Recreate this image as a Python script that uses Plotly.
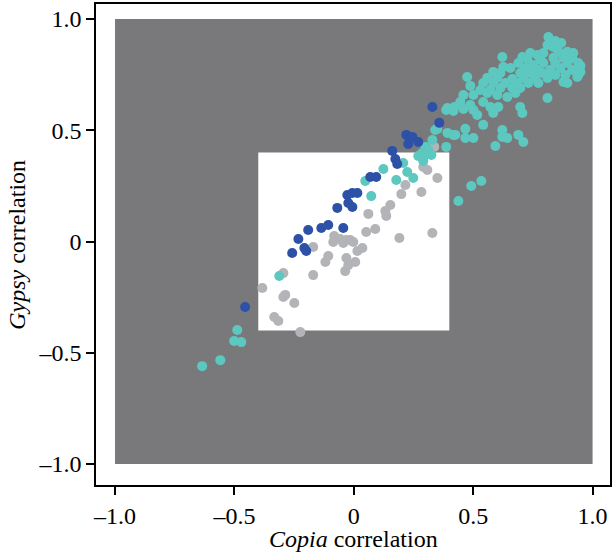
import plotly.graph_objects as go

# Gray points (non-significant)
gray_x = [0.337, 0.291, 0.308, 0.350, 0.216, 0.199, 0.283, 0.153, 0.132, 0.136, 0.061, 0.090, 0.052,
          0.191, 0.329, -0.082, -0.057, -0.031, -0.015, -0.086, -0.044, -0.002, 0.036, -0.170, 0.015,
          -0.107, -0.031, -0.119, 0.006, -0.023, -0.036, -0.295, -0.170, -0.383, -0.295, -0.287,
          -0.249, -0.333, -0.316, -0.224]
gray_y = [0.425, 0.335, 0.321, 0.285, 0.254, 0.213, 0.222, 0.164, 0.137, 0.115, 0.124, 0.056, 0.043,
          0.016, 0.038, 0.025, 0.011, 0.007, 0.007, -0.002, -0.007, -0.002, -0.029, -0.025, -0.043,
          -0.065, -0.074, -0.092, -0.092, -0.106, -0.133, -0.142, -0.151, -0.209, -0.249, -0.240,
          -0.276, -0.339, -0.357, -0.407]

# Teal points
teal_x = [0.815, 0.844, 0.869, 0.811, 0.836, 0.739, 0.769, 0.794, 0.857, 0.894, 0.919, 0.622, 0.706,
          0.727, 0.781, 0.836, 0.878, 0.915, 0.940, 0.689, 0.752, 0.794, 0.844, 0.894, 0.626, 0.656,
          0.718, 0.769, 0.823, 0.865, 0.915, 0.949, 0.584, 0.614, 0.697, 0.739, 0.790, 0.844, 0.886,
          0.936, 0.559, 0.601, 0.664, 0.710, 0.760, 0.811, 0.878, 0.475, 0.542, 0.584, 0.635, 0.685,
          0.731, 0.773, 0.488, 0.530, 0.572, 0.614, 0.664, 0.697, 0.459, 0.501, 0.559, 0.601, 0.643,
          0.677, 0.811, 0.446, 0.488, 0.542, 0.572, 0.605, 0.697, 0.392, 0.417, 0.459, 0.501, 0.517,
          0.584, 0.706, 0.542, 0.392, 0.417, 0.467, 0.501, 0.467, 0.622, 0.622, 0.643, 0.689, 0.710,
          0.593, 0.940, 0.894, 0.949, 0.341, 0.329, 0.387, 0.300, 0.312, 0.287, 0.270, 0.300, 0.325,
          0.291, 0.207, 0.124, 0.224, 0.249, 0.178, 0.048, 0.073, 0.438, 0.492, 0.534, -0.312, -0.488,
          -0.501, -0.471, -0.559, -0.635, 0.387, 0.421, 0.350, 0.425]
teal_y = [0.919, 0.901, 0.892, 0.883, 0.874, 0.847, 0.838, 0.847, 0.852, 0.852, 0.847, 0.829, 0.829,
          0.820, 0.820, 0.825, 0.825, 0.825, 0.802, 0.802, 0.793, 0.802, 0.802, 0.802, 0.784, 0.780,
          0.780, 0.771, 0.771, 0.780, 0.771, 0.762, 0.762, 0.757, 0.757, 0.757, 0.757, 0.748, 0.748,
          0.739, 0.735, 0.735, 0.730, 0.735, 0.735, 0.735, 0.717, 0.739, 0.712, 0.712, 0.712, 0.712,
          0.712, 0.712, 0.699, 0.681, 0.681, 0.690, 0.690, 0.690, 0.658, 0.658, 0.667, 0.658, 0.649,
          0.667, 0.645, 0.627, 0.613, 0.627, 0.604, 0.604, 0.604, 0.600, 0.586, 0.595, 0.591, 0.568,
          0.577, 0.577, 0.524, 0.488, 0.479, 0.506, 0.465, 0.465, 0.501, 0.470, 0.465, 0.479, 0.447,
          0.429, 0.748, 0.712, 0.789, 0.501, 0.456, 0.425, 0.425, 0.411, 0.398, 0.384, 0.389, 0.389,
          0.362, 0.353, 0.326, 0.312, 0.285, 0.276, 0.272, 0.204, 0.182, 0.249, 0.272, -0.155, -0.398,
          -0.447, -0.452, -0.533, -0.560, 0.591, 0.604, 0.506, 0.479]

# Dark blue points
blue_x = [0.329, 0.358, 0.220, 0.245, 0.270, 0.228, 0.161, 0.174, 0.182, 0.069, 0.094, -0.027, -0.006,
          0.015, -0.023, -0.006, -0.069, -0.107, -0.136, -0.044, -0.191, -0.232, -0.207, -0.199,
          -0.258, -0.455]
blue_y = [0.604, 0.533, 0.479, 0.470, 0.447, 0.438, 0.407, 0.371, 0.348, 0.290, 0.290, 0.209, 0.218,
          0.218, 0.173, 0.155, 0.151, 0.074, 0.061, 0.061, 0.052, 0.011, -0.029, -0.043, -0.052,
          -0.294]

tick_vals = [-1.0, -0.5, 0.0, 0.5, 1.0]
tick_text = ["\u20131.0", "\u20130.5", "0", "0.5", "1.0"]
x_title = "<i>Copia</i> correlation"
y_title = "<i>Gypsy</i> correlation"

GRAY_BG = "#79797b"
TEAL = "#5cc8c0"
BLUE = "#2c51a6"
LIGHT = "#b3b4b7"
FONT = "Liberation Serif"

fig = go.Figure()
for xs, ys, col in [(gray_x, gray_y, LIGHT), (teal_x, teal_y, TEAL), (blue_x, blue_y, BLUE)]:
    fig.add_trace(go.Scatter(x=xs, y=ys, mode="markers",
                             marker=dict(color=col, size=10, line=dict(width=0)),
                             showlegend=False, hoverinfo="skip"))

fig.add_shape(type="rect", x0=-1, x1=1, y0=-1, y1=1, fillcolor=GRAY_BG,
              line=dict(width=0), layer="below")
fig.add_shape(type="rect", x0=-0.4, x1=0.4, y0=-0.4, y1=0.4, fillcolor="white",
              line=dict(width=0), layer="below")

axis_common = dict(showgrid=False, zeroline=False, showline=True, mirror=True,
                   linecolor="black", linewidth=1.5, ticks="outside", ticklen=8,
                   tickwidth=1.5, tickcolor="black", tickvals=tick_vals, ticktext=tick_text,
                   tickfont=dict(family=FONT, size=24, color="black"), automargin=False)

fig.update_layout(
    width=615, height=553,
    margin=dict(l=96, r=5, t=4, b=68),
    paper_bgcolor="white", plot_bgcolor="white",
    xaxis=dict(range=[-1.0796, 1.073], **axis_common),
    yaxis=dict(range=[-1.094, 1.067], **axis_common),
    annotations=[
        dict(text=x_title, xref="paper", yref="paper", x=0.5, y=-0.112,
             xanchor="center", yanchor="middle", showarrow=False,
             font=dict(family=FONT, size=24, color="black")),
        dict(text=y_title, xref="paper", yref="paper", x=-0.155, y=0.5,
             xanchor="center", yanchor="middle", showarrow=False, textangle=-90,
             font=dict(family=FONT, size=24, color="black")),
    ],
)

fig.write_html("out.html", config={"displayModeBar": False},
               post_script="document.body.style.margin='0';document.body.style.padding='0';")
